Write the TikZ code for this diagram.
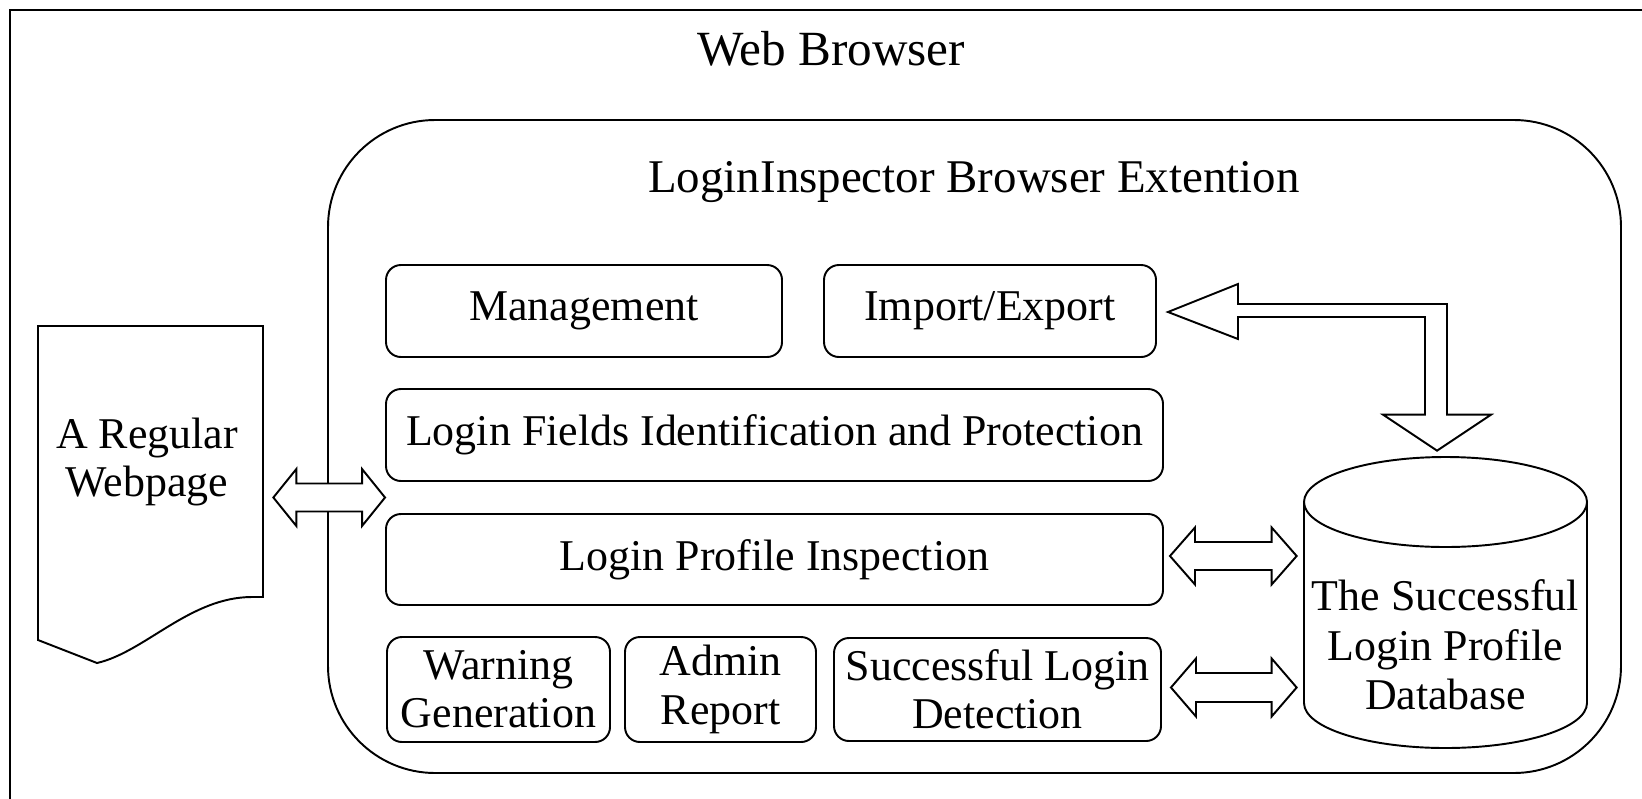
\documentclass[tikz,border=0pt]{standalone}
\usepackage{fontspec}
\setmainfont{Liberation Serif}
\usetikzlibrary{calc}
\newcommand\pxu{0.02cm}
\tikzset{
  ln/.style={line width=1.1pt},
  txt/.style={font=\fontsize{25}{27.5}\selectfont, align=center, inner sep=0pt},
  box/.style={txt, draw, line width=1.1pt, rounded corners=8.5pt},
  arr/.style={draw, fill=white, line width=1.1pt, line join=miter},
}
\newcommand\dblarrow[5]{%
  \draw[arr] (#1) -- ($(#1)+(#3,-#4)$) -- ($(#1)+(#3,-#5)$) -- ($(#2)+(-#3,-#5)$)
    -- ($(#2)+(-#3,-#4)$) -- (#2) -- ($(#2)+(-#3,#4)$) -- ($(#2)+(-#3,#5)$)
    -- ($(#1)+(#3,#5)$) -- ($(#1)+(#3,#4)$) -- cycle;}
\begin{document}
\begin{tikzpicture}[x=0.02cm, y=-0.02cm]
\clip (0,0) rectangle (1642,798);
\fill[white] (0,0) rectangle (1642,798);
% outer browser frame
\draw[line width=1.4pt] (1660,10) -- (10,10) -- (10,820);
\node[txt, font=\fontsize{28}{30}\selectfont, anchor=base] (web) at (831,65) {Web Browser};
% extension container
\node[draw, ln, rounded corners=61pt, minimum width=1293*\pxu, minimum height=653*\pxu, inner sep=0pt] (ext) at (974.5,446.5) {};
\node[txt, font=\fontsize{26.7}{29}\selectfont, anchor=base] (exttitle) at (974,192) {LoginInspector Browser Extention};
% modules
\node[box, minimum width=396*\pxu, minimum height=92*\pxu] (mgmt) at (584,311) {Management};
\node[box, minimum width=332*\pxu, minimum height=92*\pxu] (imex) at (990,311) {Import/Export};
\node[box, minimum width=777*\pxu, minimum height=92*\pxu] (fields) at (774.5,435) {Login Fields Identification and Protection};
\node[box, minimum width=777*\pxu, minimum height=91*\pxu] (insp) at (774.5,559.5) {Login Profile Inspection};
\node[box, minimum width=223*\pxu, minimum height=105*\pxu] (warn) at (498.5,689.5) {Warning\\Generation};
\node[box, minimum width=191*\pxu, minimum height=105*\pxu] (admin) at (720.5,689.5) {Admin\\Report};
\node[box, minimum width=327*\pxu, minimum height=103*\pxu] (succ) at (997.5,689.5) {Successful Login\\Detection};
% regular webpage (document shape)
\draw[ln, fill=white] (38,326) -- (263,326) -- (263,597) -- (252,597)
  .. controls (190,597) and (145,652) .. (97,663) -- (38,640) -- cycle;
\node[minimum width=225*\pxu, minimum height=337*\pxu, inner sep=0pt] (docbox) at (150.5,494.5) {};
\node[txt] (doc) at (147,462) {A Regular\\Webpage};
% database cylinder
\node[minimum width=283*\pxu, minimum height=290*\pxu, inner sep=0pt] (db) at (1445.5,602) {};
\draw[ln, fill=white] (1304,502) -- (1304,703)
  .. controls (1304,727.85) and (1367.35,748) .. (1445.5,748)
  .. controls (1523.65,748) and (1587,727.85) .. (1587,703) -- (1587,502);
\draw[ln] (1445.5,502) ellipse [x radius=141.5*\pxu, y radius=45*\pxu];
\node[txt, font=\fontsize{25}{28.3}\selectfont] (dbtext) at (1445.5,645) {The Successful\\Login Profile\\Database};
% arrows
\coordinate (aR) at ($(fields.south west)!0.5!(insp.north west)$);
\coordinate (aT) at (docbox.east |- aR);
\coordinate (aL) at ($(aT)+(10,0)$);
\dblarrow{aL}{aR}{23}{28.5}{14}
\coordinate (bL) at ($(insp.east)+(6,-3.5)$);
\coordinate (bT) at (db.west |- bL);
\coordinate (bR) at ($(bT)+(-7,0)$);
\dblarrow{bL}{bR}{25}{28.5}{14}
\coordinate (cL) at ($(succ.east)+(9,-2)$);
\coordinate (cT) at (db.west |- cL);
\coordinate (cR) at ($(cT)+(-7,0)$);
\dblarrow{cL}{cR}{25}{29}{14.5}
\coordinate (bt) at ($(imex.east)+(11,1)$);
\coordinate (bd) at ($(db.north)+(-8.5,-6)$);
\draw[arr] (bt) -- ($(bt)+(70,-28)$) -- ($(bt)+(70,-8)$) -- (1447,304)
  -- ($(bd)+(10,-36)$) -- ($(bd)+(54,-36)$) -- (bd) -- ($(bd)+(-54,-36)$)
  -- ($(bd)+(-12,-36)$) -- (1425,317) -- ($(bt)+(70,5)$) -- ($(bt)+(70,27)$) -- cycle;
\end{tikzpicture}
\end{document}
